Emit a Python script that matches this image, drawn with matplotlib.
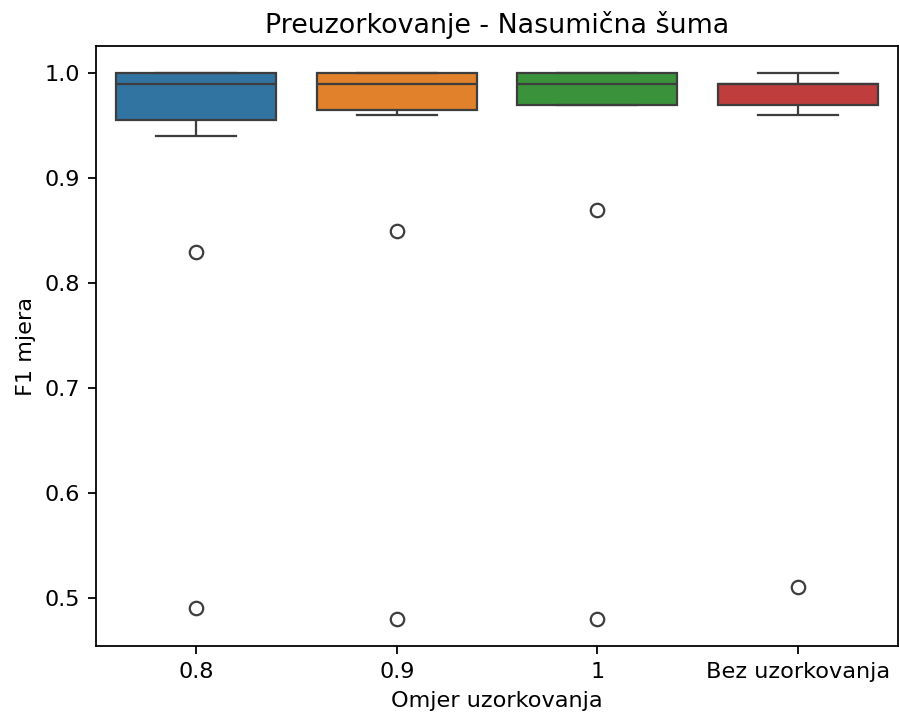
import matplotlib
matplotlib.use("Agg")
import matplotlib.pyplot as plt
import pandas as pd
import seaborn as sns

categories = ["0.8", "0.9", "1", "Bez uzorkovanja"]

f1_08  = [0.49, 0.83, 0.94, 0.97, 0.98, 0.99, 1.0, 1.0, 1.0, 1.0, 1.0]
f1_09  = [0.48, 0.85, 0.96, 0.97, 0.98, 0.99, 1.0, 1.0, 1.0, 1.0, 1.0]
f1_10  = [0.48, 0.87, 0.97, 0.97, 0.98, 0.99, 1.0, 1.0, 1.0, 1.0, 1.0]
f1_bez = [0.51, 0.96, 0.97, 0.97, 0.98, 0.99, 0.99, 0.99, 0.99, 1.0, 1.0]

rows = []
for cat, vals in zip(categories, [f1_08, f1_09, f1_10, f1_bez]):
    for v in vals:
        rows.append({"Omjer uzorkovanja": cat, "F1 mjera": v})
df = pd.DataFrame(rows)

DPI = 161
fig = plt.figure(figsize=(899 / DPI, 718 / DPI), dpi=DPI)
ax = fig.add_axes([96 / 899, 1 - 646 / 718, 802 / 899, 600 / 718])

sns.boxplot(data=df, x="Omjer uzorkovanja", y="F1 mjera",
            hue="Omjer uzorkovanja", order=categories, ax=ax)

ax.set_title("Preuzorkovanje - Nasumična šuma")
ax.set_xlabel("Omjer uzorkovanja")
ax.set_ylabel("F1 mjera")

fig.savefig("out.png", dpi=DPI)
